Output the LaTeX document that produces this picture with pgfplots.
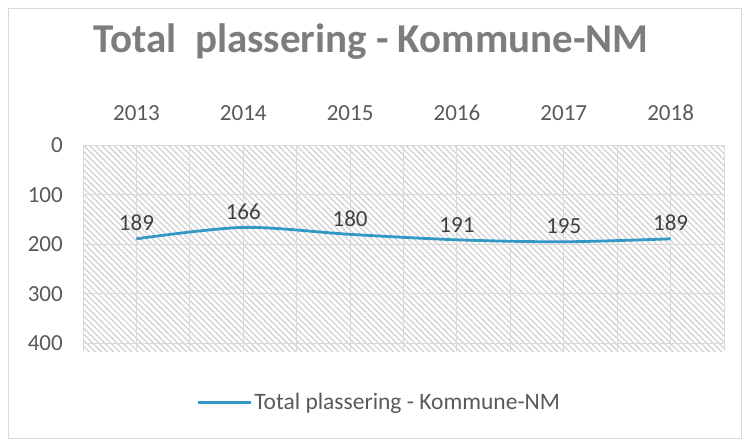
\documentclass[border=0pt]{standalone}
\usepackage{pgfplots}
\pgfplotsset{compat=1.18}
\usepackage{fontspec}
\setmainfont{Carlito}
\usetikzlibrary{patterns.meta}
\definecolor{linecol}{RGB}{52,152,198}
\definecolor{tickcol}{RGB}{89,89,89}
\definecolor{labcol}{RGB}{64,64,64}
\definecolor{titlecol}{RGB}{125,125,125}
\definecolor{gridcol}{RGB}{217,217,217}
\definecolor{hatchcol}{RGB}{212,212,212}
\begin{document}
\begin{tikzpicture}
\useasboundingbox (0,0) rectangle (742bp,-439bp);
\draw[gridcol, line width=1bp] (8bp,-8bp) rectangle (741bp,-438bp);
\node[anchor=base, text=titlecol, font=\fontsize{41bp}{49bp}\selectfont\bfseries] at (371bp,-52bp) {Total\ \ plassering - Kommune-NM};
\fill[pattern={Lines[angle=-45, distance=4.3bp, line width=1.4bp]}, pattern color=hatchcol] (83bp,-145bp) rectangle (724bp,-351bp);
\begin{axis}[
  at={(83bp,-145bp)}, anchor=north west,
  scale only axis, width=641bp, height=206bp,
  xmin=-0.5, xmax=5.5, ymin=0, ymax=415, y dir=reverse,
  xtick={0,1,2,3,4,5},
  xticklabels={2013,2014,2015,2016,2017,2018},
  minor xtick={-0.5,0.5,1.5,2.5,3.5,4.5,5.5},
  ytick={0,100,200,300,400},
  xticklabel pos=right,
  major tick length=0, minor tick length=0,
  xmajorgrids=true, xminorgrids=true, ymajorgrids=true,
  grid style={gridcol, line width=1bp},
  minor grid style={gridcol, line width=1bp},
  axis line style={draw=none},
  /pgf/number format/assume math mode=true,
  tick label style={font=\fontsize{23bp}{27bp}\selectfont, text=tickcol},
  xticklabel style={anchor=base, yshift=25bp},
  yticklabel style={anchor=east, inner sep=0pt, xshift=-20bp},
  legend style={at={(0.462,-0.248)}, anchor=center, draw=none, fill=none,
    font=\fontsize{23.5bp}{27bp}\selectfont, text=tickcol},
  legend cell align=left,
  legend image code/.code={\draw[#1] (0bp,0bp) -- (53bp,0bp);},
  legend image post style={line width=3bp},
  clip=false,
]
\addplot[linecol, line width=2.8bp, smooth,
  nodes near coords, point meta=explicit symbolic,
  every node near coord/.style={font=\fontsize{23bp}{27bp}\selectfont, text=labcol, anchor=south, yshift=3bp}]
  coordinates {(0,189)[189] (1,166)[166] (2,180)[180] (3,191)[191] (4,195)[195] (5,189)[189]};
\addlegendentry{Total plassering - Kommune-NM}
\end{axis}
\end{tikzpicture}
\end{document}
